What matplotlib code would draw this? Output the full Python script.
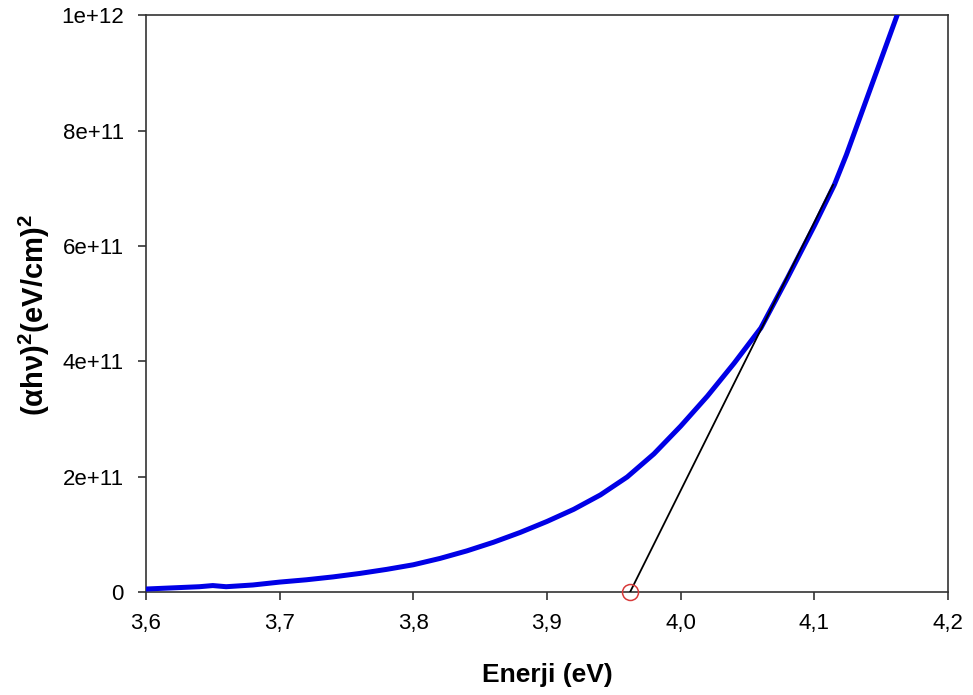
import matplotlib
matplotlib.use("Agg")
import matplotlib.pyplot as plt

plt.rcParams['font.family'] = ['Liberation Sans', 'DejaVu Sans']
plt.rcParams['mathtext.fontset'] = 'custom'
plt.rcParams['mathtext.rm'] = 'Liberation Sans'
plt.rcParams['mathtext.bf'] = 'Liberation Sans:bold'
plt.rcParams['mathtext.it'] = 'Liberation Sans:italic'

# Tauc plot data: photon energy (eV) vs (alpha*h*nu)^2 in (eV/cm)^2
energy = [3.600, 3.620, 3.640, 3.650, 3.660, 3.680, 3.700, 3.720, 3.740, 3.760,
          3.780, 3.800, 3.820, 3.840, 3.860, 3.880, 3.900, 3.920, 3.940, 3.960,
          3.980, 4.000, 4.020, 4.040, 4.060, 4.080, 4.100, 4.115, 4.124, 4.140,
          4.162]
ahv_sq = [0.06e11, 0.08e11, 0.10e11, 0.12e11, 0.10e11, 0.13e11, 0.18e11, 0.22e11,
          0.27e11, 0.33e11, 0.40e11, 0.48e11, 0.59e11, 0.72e11, 0.87e11, 1.04e11,
          1.23e11, 1.44e11, 1.69e11, 2.00e11, 2.40e11, 2.88e11, 3.40e11, 3.97e11,
          4.58e11, 5.45e11, 6.35e11, 7.06e11, 7.58e11, 8.60e11, 10.0e11]

# Linear extrapolation of the absorption edge down to the energy axis
tangent_x = [3.962, 4.114]
tangent_y = [0.0, 7.06e11]
band_gap = 3.962

x_ticks = [3.6, 3.7, 3.8, 3.9, 4.0, 4.1, 4.2]
x_tick_labels = ["3,6", "3,7", "3,8", "3,9", "4,0", "4,1", "4,2"]
y_ticks = [0, 2e11, 4e11, 6e11, 8e11, 1e12]
y_tick_labels = ["0", "2e+11", "4e+11", "6e+11", "8e+11", "1e+12"]

fig = plt.figure(figsize=(9.73, 6.95), dpi=100)
ax = fig.add_axes([0.150, 0.1475, 0.8243, 0.8309])

ax.plot(energy, ahv_sq, color='#0000e6', lw=3.6, solid_capstyle='round',
        solid_joinstyle='round', zorder=3)
ax.plot(tangent_x, tangent_y, color='black', lw=1.3, zorder=4)
ax.plot([band_gap], [0], marker='o', ms=11.5, mfc='none', mec='#d83a3a',
        mew=1.1, clip_on=False, zorder=5)

ax.set_xlim(3.6, 4.2)
ax.set_ylim(0, 1e12)
ax.set_xticks(x_ticks)
ax.set_xticklabels(x_tick_labels)
ax.set_yticks(y_ticks)
ax.set_yticklabels(y_tick_labels)

for s in ax.spines.values():
    s.set_color('#333333')
    s.set_linewidth(1.2)
ax.tick_params(axis='both', direction='out', length=6, width=1.2, color='#333333',
               labelsize=16, top=False, right=False)
ax.tick_params(axis='x', pad=9)
ax.tick_params(axis='y', pad=10)

ax.set_xlabel("Enerji (eV)", fontsize=19, fontweight='bold', labelpad=21)
ax.set_ylabel(r"$\mathbf{(\alpha h\nu)^2(eV/cm)^2}$", fontsize=21)
ax.yaxis.set_label_coords(-0.117, 0.48)

fig.savefig("out.png", dpi=100)
